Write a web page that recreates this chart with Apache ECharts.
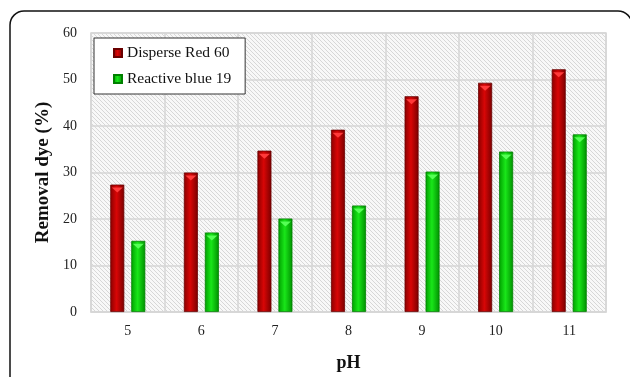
<!DOCTYPE html>
<html><head><meta charset="utf-8">
<script src="https://cdn.jsdelivr.net/npm/echarts@6/dist/echarts.min.js"></script>
<style>html,body{margin:0;padding:0;background:#fff}#c{width:630px;height:377px}</style>
</head><body><div id="c"></div>
<script>
var categories = ['5','6','7','8','9','10','11'];
var redValues = [27.4, 30.0, 34.7, 39.2, 46.4, 49.3, 52.2];
var greenValues = [15.3, 17.1, 20.1, 22.9, 30.2, 34.5, 38.2];
var seriesNames = ['Disperse Red 60', 'Reactive blue 19'];
var yTicks = [0, 60, 10];

var pc = document.createElement('canvas');
pc.width = 4; pc.height = 4;
var g = pc.getContext('2d');
g.fillStyle = '#f8f8f8'; g.fillRect(0,0,4,4);
g.strokeStyle = '#d2d2d2'; g.lineWidth = 0.9;
g.beginPath();
g.moveTo(-1,-1); g.lineTo(5,5);
g.moveTo(-1,3); g.lineTo(1,5);
g.moveTo(3,-1); g.lineTo(5,1);
g.stroke();

function grad(a,b,c){
  return new echarts.graphic.LinearGradient(0,0,1,0,[
    {offset:0,color:a},{offset:0.45,color:b},{offset:1,color:c}]);
}
var font = 'Liberation Serif';
var chart = echarts.init(document.getElementById('c'), null, {renderer:'canvas'});
chart.setOption({
  animation:false,
  graphic:[{type:'rect', shape:{x:10,y:11,width:622,height:420,r:14},
    style:{fill:'none',stroke:'#111',lineWidth:1.5}, z:-10}],
  grid:{left:91,right:24,top:33,bottom:59,show:true,
    backgroundColor:{image:pc,repeat:'repeat'},borderColor:'#d6d6d6',borderWidth:1.5},
  legend:{data:seriesNames, orient:'vertical', left:94, top:38, icon:'rect',
    backgroundColor:'#fff', borderColor:'#333', borderWidth:1,
    padding:[7,14,7,19], itemGap:10, itemWidth:8, itemHeight:8,
    textStyle:{fontFamily:font,fontSize:15.5,color:'#111'}},
  xAxis:{type:'category', data:categories,
    axisLine:{show:true,lineStyle:{color:'#d6d6d6',width:1.5}}, axisTick:{show:false},
    splitLine:{show:true,lineStyle:{color:'#d6d6d6',width:1.5}},
    axisLabel:{fontFamily:font,fontSize:14,color:'#222',margin:12},
    name:'pH', nameLocation:'middle', nameGap:42,
    nameTextStyle:{fontFamily:font,fontSize:18,fontWeight:'bold',color:'#111'}},
  yAxis:{type:'value', min:yTicks[0], max:yTicks[1], interval:yTicks[2],
    axisLine:{show:false}, axisTick:{show:false},
    splitLine:{lineStyle:{color:'#d6d6d6',width:1.5}},
    axisLabel:{fontFamily:font,fontSize:14,color:'#222',margin:14},
    name:'Removal dye (%)', nameLocation:'middle', nameGap:37,
    nameTextStyle:{fontFamily:font,fontSize:19,fontWeight:'bold',color:'#111'}},
  series:[
    {name:seriesNames[0], type:'bar', data:redValues, barWidth:14, barGap:'50%',
      itemStyle:{color:grad('#8a0000','#d80606','#7a0000'),borderColor:'#6a0000',borderWidth:0.8}},
    {name:seriesNames[1], type:'bar', data:greenValues, barWidth:14, barGap:'50%',
      itemStyle:{color:grad('#00a000','#19e619','#009000'),borderColor:'#008000',borderWidth:0.8}},
    {name:'capR', type:'pictorialBar', data:redValues, barWidth:14, barGap:'50%', z:5,
      symbol:'path://M0,0 L10,0 L5,5 Z', symbolSize:[11,5], symbolPosition:'end',
      symbolOffset:[0,'60%'], itemStyle:{color:'#ff3a3a'}, legendHoverLink:false},
    {name:'capG', type:'pictorialBar', data:greenValues, barWidth:14, barGap:'50%', z:5,
      symbol:'path://M0,0 L10,0 L5,5 Z', symbolSize:[11,5], symbolPosition:'end',
      symbolOffset:[0,'60%'], itemStyle:{color:'#55ff55'}, legendHoverLink:false}
  ]
});
</script></body></html>
